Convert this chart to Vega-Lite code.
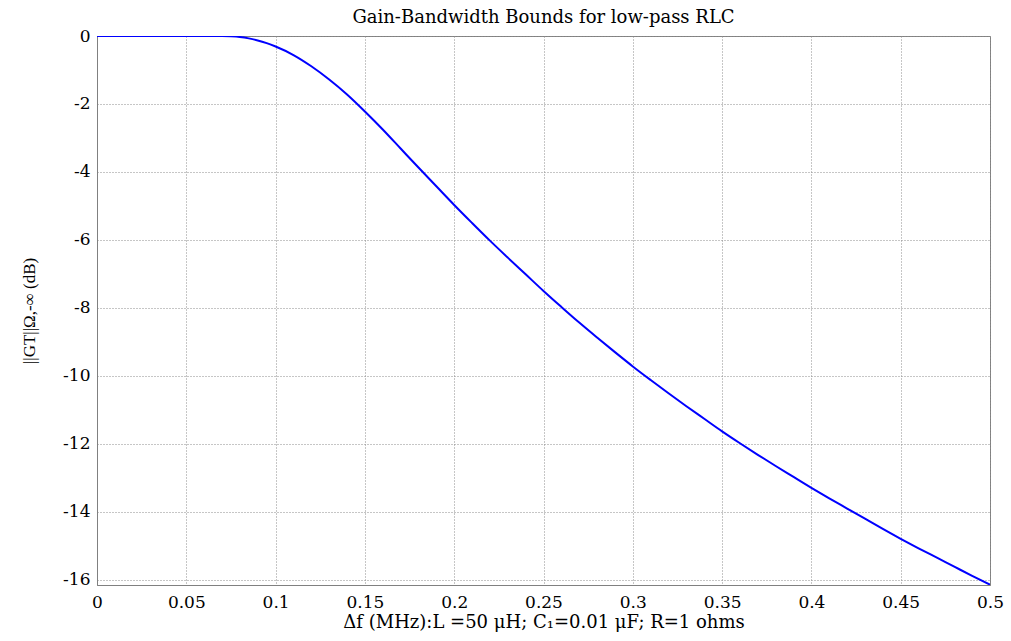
{
  "$schema": "https://vega.github.io/schema/vega-lite/v6.json",
  "autosize": {"type": "none"},
  "padding": {"left": 97, "top": 36, "right": 21, "bottom": 56},
  "width": 893,
  "height": 549,
  "background": "white",
  "title": {
    "text": "Gain-Bandwidth Bounds for low-pass RLC",
    "font": "DejaVu Serif",
    "fontSize": 18,
    "fontWeight": "normal",
    "color": "#000000",
    "offset": 12,
    "dy": 12,
    "anchor": "middle"
  },
  "data": {
    "values": [
      {"f": 0.0, "g": 0.0},
      {"f": 0.05, "g": 0.0},
      {"f": 0.07, "g": 0.0},
      {"f": 0.075, "g": -0.01},
      {"f": 0.08, "g": -0.03},
      {"f": 0.085, "g": -0.07},
      {"f": 0.09, "g": -0.13},
      {"f": 0.095, "g": -0.21},
      {"f": 0.1, "g": -0.31},
      {"f": 0.11, "g": -0.56},
      {"f": 0.12, "g": -0.89},
      {"f": 0.13, "g": -1.28},
      {"f": 0.14, "g": -1.72},
      {"f": 0.15, "g": -2.22},
      {"f": 0.16, "g": -2.75},
      {"f": 0.17, "g": -3.31},
      {"f": 0.18, "g": -3.87},
      {"f": 0.19, "g": -4.42},
      {"f": 0.2, "g": -4.97},
      {"f": 0.21, "g": -5.5},
      {"f": 0.22, "g": -6.02},
      {"f": 0.23, "g": -6.52},
      {"f": 0.24, "g": -7.01},
      {"f": 0.25, "g": -7.5},
      {"f": 0.26, "g": -7.97},
      {"f": 0.27, "g": -8.43},
      {"f": 0.28, "g": -8.87},
      {"f": 0.29, "g": -9.3},
      {"f": 0.3, "g": -9.72},
      {"f": 0.31, "g": -10.12},
      {"f": 0.32, "g": -10.51},
      {"f": 0.33, "g": -10.89},
      {"f": 0.34, "g": -11.26},
      {"f": 0.35, "g": -11.63},
      {"f": 0.36, "g": -11.98},
      {"f": 0.37, "g": -12.32},
      {"f": 0.38, "g": -12.65},
      {"f": 0.39, "g": -12.97},
      {"f": 0.4, "g": -13.29},
      {"f": 0.41, "g": -13.6},
      {"f": 0.42, "g": -13.9},
      {"f": 0.43, "g": -14.2},
      {"f": 0.44, "g": -14.5},
      {"f": 0.45, "g": -14.79},
      {"f": 0.46, "g": -15.07},
      {"f": 0.47, "g": -15.34},
      {"f": 0.48, "g": -15.61},
      {"f": 0.49, "g": -15.88},
      {"f": 0.5, "g": -16.14}
    ]
  },
  "mark": {"type": "line", "color": "#0000FF", "strokeWidth": 2, "clip": true, "interpolate": "monotone"},
  "encoding": {
    "x": {
      "field": "f",
      "type": "quantitative",
      "scale": {"domain": [0, 0.5], "nice": false, "zero": false},
      "axis": {
        "values": [0, 0.05, 0.1, 0.15, 0.2, 0.25, 0.3, 0.35, 0.4, 0.45, 0.5],
        "labelExpr": "toString(datum.value)",
        "title": "Δf (MHz):L =50 μH; C₁=0.01 μF; R=1 ohms",
        "titleFont": "DejaVu Serif",
        "titleFontSize": 18
      }
    },
    "y": {
      "field": "g",
      "type": "quantitative",
      "scale": {"domain": [-16.15, 0], "nice": false, "zero": false},
      "axis": {
        "values": [0, -2, -4, -6, -8, -10, -12, -14, -16],
        "labelExpr": "toString(datum.value)",
        "title": "||GT||Ω,-∞ (dB)",
        "titleFont": "Liberation Serif",
        "titleFontSize": 17
      }
    }
  },
  "config": {
    "view": {"stroke": "#808080", "strokeWidth": 1},
    "axis": {
      "labelFont": "DejaVu Serif",
      "labelFontSize": 17,
      "labelColor": "#000000",
      "labelFlush": false,
      "labelOverlap": false,
      "titleFontWeight": "normal",
      "titleColor": "#000000",
      "domainColor": "#808080",
      "domainWidth": 1,
      "ticks": false,
      "tickSize": 0,
      "grid": true,
      "gridColor": "#8c8c8c",
      "gridDash": [1, 2],
      "gridWidth": 1
    },
    "axisX": {"labelPadding": 9, "titlePadding": 3},
    "axisY": {"labelPadding": 7, "titlePadding": 24}
  }
}
